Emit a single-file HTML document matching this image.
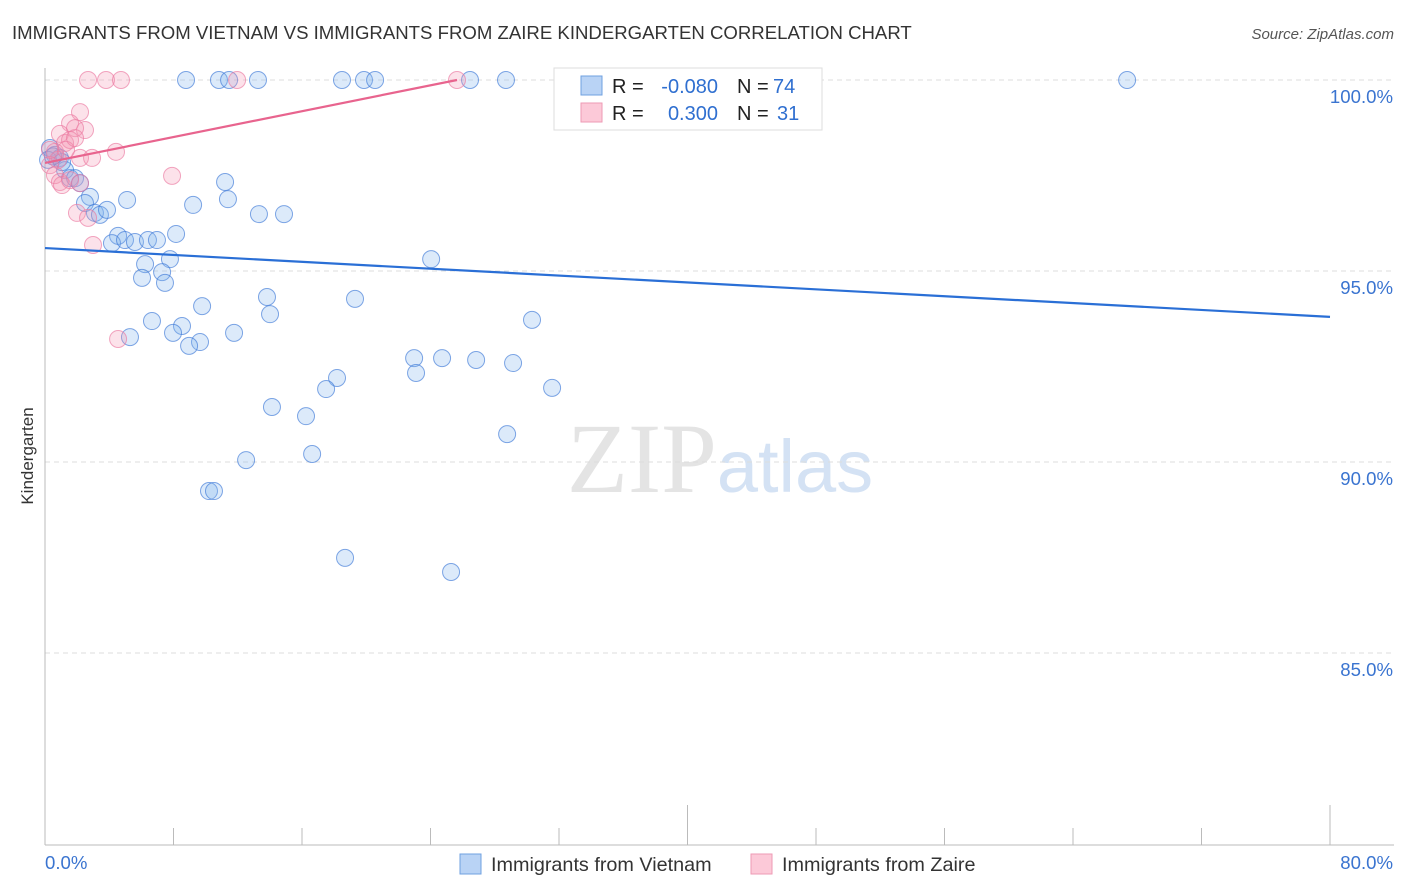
<!DOCTYPE html>
<html><head><meta charset="utf-8"><style>
body{margin:0;background:#fff;font-family:"Liberation Sans",sans-serif;}
svg{display:block}
</style></head><body>
<svg id="chart" width="1406" height="892" viewBox="0 0 1406 892" xmlns="http://www.w3.org/2000/svg">
<text x="12" y="39" font-size="18.6" fill="#333">IMMIGRANTS FROM VIETNAM VS IMMIGRANTS FROM ZAIRE KINDERGARTEN CORRELATION CHART</text>
<text x="1394" y="39" font-size="15" fill="#555" font-style="italic" text-anchor="end">Source: ZipAtlas.com</text>
<text x="720" y="492" font-size="100" text-anchor="middle" fill="#e4e4e4" font-family="Liberation Serif,serif">ZIP<tspan fill="#d4e2f4" font-family="Liberation Sans,sans-serif" font-size="74">atlas</tspan></text>
<text transform="translate(33,456) rotate(-90)" font-size="17" fill="#333" text-anchor="middle">Kindergarten</text>
<g id="grid"></g><g id="axes"></g><g id="pts"></g><g id="trends"></g>
<g>
<rect x="554" y="68" width="268" height="62" fill="#fff" stroke="#ddd"/>
<rect x="581" y="76" width="21" height="19" fill="#b9d3f5" stroke="#6fa0e0"/>
<rect x="581" y="103" width="21" height="19" fill="#fcc9d8" stroke="#ee9ab4"/>
<text x="612" y="93" font-size="20" fill="#222">R =</text>
<text x="718" y="93" font-size="20" fill="#2f6fd0" text-anchor="end">-0.080</text>
<text x="737" y="93" font-size="20" fill="#222">N =</text>
<text x="773" y="93" font-size="20" fill="#2f6fd0">74</text>
<text x="612" y="120" font-size="20" fill="#222">R =</text>
<text x="718" y="120" font-size="20" fill="#2f6fd0" text-anchor="end">0.300</text>
<text x="737" y="120" font-size="20" fill="#222">N =</text>
<text x="777" y="120" font-size="20" fill="#2f6fd0">31</text>
</g>
<g>
<rect x="460" y="854" width="21" height="20" fill="#b9d3f5" stroke="#6fa0e0"/>
<text x="491" y="871" font-size="19.8" fill="#333">Immigrants from Vietnam</text>
<rect x="751" y="854" width="21" height="20" fill="#fcc9d8" stroke="#ee9ab4"/>
<text x="782" y="871" font-size="19.8" fill="#333">Immigrants from Zaire</text>
</g>
</svg>
<script>
const yTicks=[100,95,90,85];
const yTickLabels=["100.0%","95.0%","90.0%","85.0%"];
const xTickLabels=["0.0%","80.0%"];
const blueX=[8.78,10.83,11.46,13.26,18.49,19.86,20.55,26.46,28.7,43.15,67.37,0.31,0.62,0.93,1.25,1.56,1.87,2.18,2.8,2.49,3.11,3.42,3.86,5.11,11.21,9.22,11.39,13.32,14.88,4.55,4.17,4.98,5.6,6.41,6.97,8.16,6.23,7.78,6.04,7.29,7.47,24.04,9.78,13.82,19.3,14.01,6.66,8.53,7.97,5.29,11.77,9.65,8.97,30.32,22.98,24.72,26.84,29.14,18.18,23.1,17.5,31.57,14.13,16.25,28.77,12.52,16.63,10.21,10.52,18.68,25.28,0.19,1.06,0.5];
const blueY=[100,100,100,100,100,100,100,100,100,100,100,98.22,98.04,97.96,97.64,97.43,97.43,97.3,96.94,96.78,96.52,96.47,96.6,96.86,97.33,96.73,96.88,96.49,96.49,95.92,95.73,95.81,95.76,95.81,95.81,95.97,95.18,95.31,94.82,94.97,94.69,95.31,94.08,94.32,94.27,93.87,93.69,93.56,93.38,93.27,93.38,93.14,93.04,93.72,92.72,92.72,92.67,92.59,92.2,92.33,91.91,91.94,91.44,91.2,90.73,90.05,90.21,89.24,89.24,87.49,87.12,97.91,97.85,98.0];
const pinkX=[2.68,3.8,4.73,11.96,25.65,2.18,1.56,2.49,1.87,0.93,1.25,1.56,0.62,0.81,2.18,2.93,4.42,0.31,0.62,0.93,1.06,1.56,2.18,7.91,1.99,2.68,2.99,4.55,0.31,1.31,1.87];
const pinkY=[100,100,100,100,100,99.16,98.87,98.69,98.74,98.59,98.35,98.43,98.12,97.91,97.96,97.96,98.12,97.77,97.51,97.33,97.25,97.38,97.3,97.49,96.52,96.39,95.68,93.22,98.17,98.17,98.48];
const blueTrend=[95.6,93.8];
const pinkTrend=[97.83,100,25.65];
const NS="http://www.w3.org/2000/svg";
const X=v=>45+v*(1285/80);
const Y=v=>80+(100-v)*38.2;
function mk(tag,parent,attrs){const e=document.createElementNS(NS,tag);for(const k in attrs)e.setAttribute(k,attrs[k]);document.getElementById(parent).appendChild(e);return e;}
yTicks.forEach((t,i)=>{
 const l=mk('line','grid',{x1:45,x2:1394,y1:Y(t),y2:Y(t),stroke:'#ddd','stroke-dasharray':'5,4'});
 
 
 const tx=mk('text','grid',{x:1393,y:Y(t)+23,'font-size':18.6,fill:'#3a74d0','text-anchor':'end'});
 tx.textContent=yTickLabels[i];
 
 
});
const ax=mk('line','axes',{x1:45,x2:1394,y1:845,y2:845,stroke:'#bbb'});


const ay=mk('line','axes',{x1:45,x2:45,y1:68,y2:845,stroke:'#bbb'});


for(let i=0;i<=10;i++){
 const tk=mk('line','axes',{x1:X(i*8),x2:X(i*8),y1:(i==5||i==10)?805:828,y2:845,stroke:'#bbb'});
 
 
}
const xl0=mk('text','axes',{x:45,y:869,'font-size':18.6,fill:'#3a74d0'});xl0.textContent=xTickLabels[0];


const xl1=mk('text','axes',{x:1393,y:869,'font-size':18.6,fill:'#3a74d0','text-anchor':'end'});xl1.textContent=xTickLabels[1];


blueX.forEach((v,i)=>{
 const c=mk('circle','pts',{cx:X(v),cy:Y(blueY[i]),r:8.5,fill:'rgba(130,178,238,0.28)',stroke:'rgba(60,120,215,0.65)','stroke-width':1});
 
 
});
pinkX.forEach((v,i)=>{
 const c=mk('circle','pts',{cx:X(v),cy:Y(pinkY[i]),r:8.5,fill:'rgba(245,150,180,0.28)',stroke:'rgba(235,120,160,0.65)','stroke-width':1});
 
 
});
const bt=mk('line','trends',{x1:X(0),y1:Y(blueTrend[0]),x2:X(80),y2:Y(blueTrend[1]),stroke:'#2a6fd6','stroke-width':2.2});


const pt=mk('line','trends',{x1:X(0),y1:Y(pinkTrend[0]),x2:X(pinkTrend[2]),y2:Y(pinkTrend[1]),stroke:'#e8648e','stroke-width':2.2});


</script>
</body></html>
